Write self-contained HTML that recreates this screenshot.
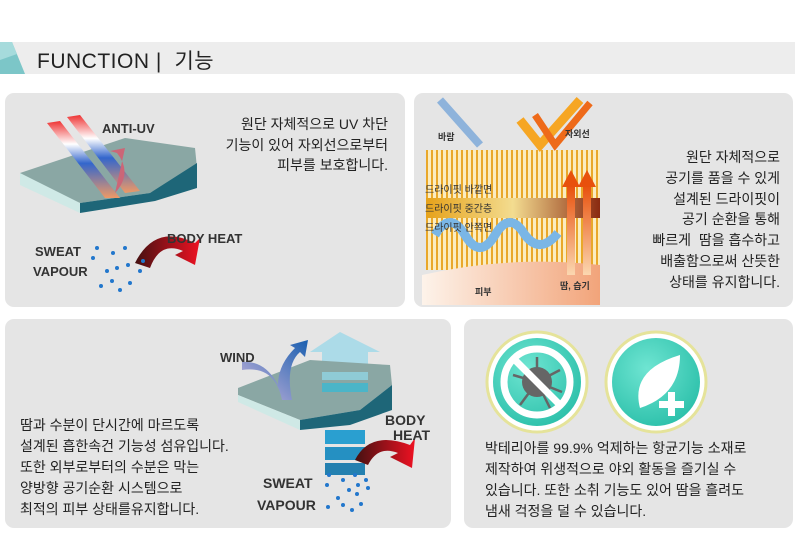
<!DOCTYPE html>
<html><head><meta charset="utf-8"><style>
*{margin:0;padding:0;box-sizing:border-box}
body{width:800px;height:550px;background:#fff;position:relative;overflow:hidden;font-family:"Liberation Sans","Noto Sans CJK KR",sans-serif;color:#222}
.hdr{position:absolute;left:0;top:42px;width:795px;height:32px;background:#ededed}
.hdr .t{position:absolute;left:37px;top:3px;font-size:21px;color:#222;letter-spacing:0.5px}
.p{position:absolute;background:#e5e5e5;border-radius:9px}
.tx{position:absolute;font-size:14px;line-height:20.5px;color:#222}
</style></head><body>
<div class="hdr">
<svg width="26" height="32" style="position:absolute;left:0;top:0"><polygon points="0,0 12,0 25,32 0,32" fill="#7cc6c8"/><polygon points="0,0 12,0 17,12 0,18" fill="#a6dbdc"/></svg>
<div class="t">FUNCTION |&nbsp; 기능</div>
</div>

<div class="p" style="left:5px;top:93px;width:400px;height:214px"></div>
<div class="p" style="left:414px;top:93px;width:379px;height:214px"></div>
<div class="p" style="left:5px;top:319px;width:446px;height:209px"></div>
<div class="p" style="left:464px;top:319px;width:329px;height:209px"></div>

<!-- P1 illustration -->
<svg width="400" height="214" style="position:absolute;left:5px;top:93px">
<defs>
<linearGradient id="uv" x1="0" y1="0" x2="0" y2="1"><stop offset="0" stop-color="#e33"/><stop offset=".3" stop-color="#fff"/><stop offset=".55" stop-color="#36c"/><stop offset="1" stop-color="#e96"/></linearGradient>
<linearGradient id="bh" x1="0" y1="0" x2="1" y2="0"><stop offset="0" stop-color="#411"/><stop offset="1" stop-color="#e12"/></linearGradient>
</defs>
<path d="M15,80 L120,45 L190,55 L192,75 L145,100 L75,110 L15,88Z" fill="#8aa7a4"/>
<path d="M15,80 L75,110 L75,120 L15,92Z" fill="#cfe9e6"/>
<path d="M75,110 L145,100 L192,70 L192,95 L150,108 L75,120Z" fill="#1e6678"/>
<path d="M42,30 L55,28 L115,105 L100,105Z" fill="url(#uv)"/>
<path d="M62,24 L75,22 L135,98 L120,100Z" fill="url(#uv)"/>
<path d="M110,100 Q128,80 112,60 L105,58 L120,55Z" fill="#c67"/>
<text x="97" y="40" font-size="13" font-weight="bold" fill="#333" font-family="Liberation Sans">ANTI-UV</text>
<path d="M130,170 Q150,130 190,150 L195,145 L190,172 L170,162 L178,158 Q155,148 145,175Z" fill="url(#bh)"/>
<text x="162" y="150" font-size="13" font-weight="bold" fill="#333" font-family="Liberation Sans">BODY HEAT</text>
<text x="30" y="163" font-size="13" font-weight="bold" fill="#333" font-family="Liberation Sans">SWEAT</text>
<text x="28" y="183" font-size="13" font-weight="bold" fill="#333" font-family="Liberation Sans">VAPOUR</text>
<g fill="#27c">
<circle cx="92" cy="155" r="2"/><circle cx="88" cy="165" r="2"/><circle cx="108" cy="160" r="2"/><circle cx="120" cy="155" r="2"/><circle cx="112" cy="175" r="2"/><circle cx="123" cy="172" r="2"/><circle cx="102" cy="178" r="2"/><circle cx="107" cy="188" r="2"/><circle cx="96" cy="193" r="2"/><circle cx="125" cy="190" r="2"/><circle cx="115" cy="197" r="2"/><circle cx="138" cy="168" r="2"/><circle cx="135" cy="178" r="2"/></g>
</svg>
<div class="tx" style="right:412px;top:114px;text-align:right">원단 자체적으로 UV 차단<br>기능이 있어 자외선으로부터<br>피부를 보호합니다.</div>

<!-- P2 illustration -->
<svg width="190" height="210" style="position:absolute;left:420px;top:95px">
<defs>
<linearGradient id="sk" x1="0" y1="0" x2="1" y2="0"><stop offset="0" stop-color="#fdf3ea"/><stop offset="1" stop-color="#f2a47a"/></linearGradient>
<linearGradient id="mid" x1="0" y1="0" x2="1" y2="0"><stop offset="0" stop-color="#e6a21a"/><stop offset=".5" stop-color="#f3dc90"/><stop offset="1" stop-color="#8a2a10"/></linearGradient>
<pattern id="fib" width="5" height="10" patternUnits="userSpaceOnUse"><rect width="5" height="10" fill="#fbecc0"/><rect x="1" width="2" height="10" fill="#e9a82a"/></pattern>
<linearGradient id="or" x1="0" y1="1" x2="0" y2="0"><stop offset="0" stop-color="#fbd7b0"/><stop offset="1" stop-color="#e8500c"/></linearGradient>
</defs>
<rect x="6" y="55" width="174" height="120" fill="url(#fib)"/>
<rect x="6" y="103" width="174" height="20" fill="url(#mid)"/>
<path d="M2,180 Q90,160 180,170 L180,210 L2,210Z" fill="url(#sk)"/>
<path d="M15,140 Q30,115 45,140 Q60,165 75,140 Q90,115 105,140 Q120,160 138,138" stroke="#7ab6e6" stroke-width="9" fill="none"/>
<rect x="147" y="90" width="8" height="90" fill="url(#or)"/><polygon points="142,92 151,75 160,92" fill="#e8500c"/>
<rect x="163" y="90" width="8" height="90" fill="url(#or)"/><polygon points="158,92 167,75 176,92" fill="#e8500c"/>
<path d="M20,5 L60,50" stroke="#6a9fd8" stroke-width="8" opacity=".7"/>
<path d="M100,25 L120,50 L160,5" stroke="#f6a623" stroke-width="9" fill="none"/>
<path d="M115,20 L135,50 L170,8" stroke="#ee6a1a" stroke-width="7" fill="none"/>
<text x="18" y="45" font-size="9" font-weight="bold" fill="#333">바람</text>
<text x="145" y="42" font-size="9" font-weight="bold" fill="#333">자외선</text>
<text x="5" y="98" font-size="10" fill="#333">드라이핏 바깥면</text>
<text x="5" y="117" font-size="10" fill="#333">드라이핏 중간층</text>
<text x="5" y="136" font-size="10" fill="#333">드라이핏 안쪽면</text>
<text x="55" y="200" font-size="9" font-weight="bold" fill="#333">피부</text>
<text x="140" y="194" font-size="9" font-weight="bold" fill="#333">땀, 습기</text>
</svg>
<div class="tx" style="right:20px;top:147px;text-align:right;line-height:20.8px">원단 자체적으로<br>공기를 품을 수 있게<br>설계된 드라이핏이<br>공기 순환을 통해<br>빠르게&nbsp; 땀을 흡수하고<br>배출함으로써 산뜻한<br>상태를 유지합니다.</div>

<!-- P3 illustration -->
<svg width="230" height="205" style="position:absolute;left:215px;top:320px">
<defs><linearGradient id="wd" x1="0" y1="1" x2="1" y2="0"><stop offset="0" stop-color="#cbb6dc"/><stop offset="1" stop-color="#1a5fb0"/></linearGradient>
<linearGradient id="bh2" x1="0" y1="0" x2="1" y2="0"><stop offset="0" stop-color="#411"/><stop offset="1" stop-color="#e12"/></linearGradient></defs>
<g transform="translate(15,0)">
<polygon points="80,32 110,12 150,32" fill="#acdbe8"/>
<rect x="92" y="32" width="46" height="18" fill="#acdbe8"/>
<path d="M8,68 L80,40 L160,45 L162,65 L130,90 L70,100 L8,75Z" fill="#8aa7a4"/>
<rect x="92" y="52" width="46" height="8" fill="#8fcbd6"/><rect x="92" y="63" width="46" height="9" fill="#4bb5c8"/>
<path d="M8,75 L70,100 L70,110 L8,82Z" fill="#cfe9e6"/>
<path d="M70,100 L130,90 L162,65 L162,90 L120,105 L70,110Z" fill="#1e6678"/>
<rect x="95" y="110" width="40" height="14" fill="#2a9fd0"/><rect x="95" y="127" width="40" height="13" fill="#2590c2"/><rect x="95" y="143" width="40" height="12" fill="#2380b0"/>
<path d="M12,50 Q45,45 52,80 L62,80 Q55,45 70,32 L75,37 L78,20 L60,25 L65,28 Q48,45 48,65 Q35,40 12,42Z" fill="url(#wd)"/>
<path d="M125,140 Q140,110 180,125 L185,118 L182,148 L160,137 L168,133 Q148,125 138,145Z" fill="url(#bh2)"/>
<text x="155" y="105" font-size="14" font-weight="bold" fill="#333" font-family="Liberation Sans">BODY</text>
<text x="163" y="120" font-size="14" font-weight="bold" fill="#333" font-family="Liberation Sans">HEAT</text>
<text x="33" y="168" font-size="14" font-weight="bold" fill="#333" font-family="Liberation Sans">SWEAT</text>
<text x="27" y="190" font-size="14" font-weight="bold" fill="#333" font-family="Liberation Sans">VAPOUR</text>
<g fill="#27c"><circle cx="99" cy="155" r="2"/><circle cx="113" cy="160" r="2"/><circle cx="125" cy="155" r="2"/><circle cx="136" cy="160" r="2"/><circle cx="97" cy="165" r="2"/><circle cx="119" cy="170" r="2"/><circle cx="128" cy="165" r="2"/><circle cx="138" cy="168" r="2"/><circle cx="108" cy="178" r="2"/><circle cx="127" cy="174" r="2"/><circle cx="113" cy="185" r="2"/><circle cx="98" cy="187" r="2"/><circle cx="122" cy="190" r="2"/><circle cx="131" cy="184" r="2"/></g>
</g>
<text x="5" y="42" font-size="13" font-weight="bold" fill="#333" font-family="Liberation Sans">WIND</text>
</svg>
<div class="tx" style="left:20px;top:415px;line-height:21px">땀과 수분이 단시간에 마르도록<br>설계된 흡한속건 기능성 섬유입니다.<br>또한 외부로부터의 수분은 막는<br>양방향 공기순환 시스템으로<br>최적의 피부 상태를유지합니다.</div>

<!-- P4 icons -->
<svg width="260" height="110" style="position:absolute;left:480px;top:330px">
<defs><radialGradient id="tq" cx=".4" cy=".35" r=".7"><stop offset="0" stop-color="#6fe5d2"/><stop offset="1" stop-color="#2cc0aa"/></radialGradient></defs>
<circle cx="57" cy="52" r="50" fill="#fff" stroke="#e5e39a" stroke-width="3"/>
<circle cx="57" cy="52" r="44" fill="url(#tq)"/>
<circle cx="57" cy="52" r="33" fill="none" stroke="#fff" stroke-width="7"/>
<circle cx="57" cy="52" r="15" fill="#666"/>
<g stroke="#666" stroke-width="2.5"><line x1="57" y1="52" x2="57" y2="27"/><line x1="57" y1="52" x2="80" y2="40"/><line x1="57" y1="52" x2="33" y2="45"/><line x1="57" y1="52" x2="40" y2="75"/><line x1="57" y1="52" x2="70" y2="78"/><line x1="57" y1="52" x2="82" y2="62"/></g>
<line x1="34" y1="29" x2="80" y2="75" stroke="#fff" stroke-width="7"/>
<circle cx="176" cy="52" r="50" fill="#fff" stroke="#e5e39a" stroke-width="3"/>
<circle cx="176" cy="52" r="44" fill="url(#tq)"/>
<path d="M160,78 Q150,40 200,25 Q200,65 160,78Z" fill="#fff"/>
<rect x="188" y="62" width="7" height="24" fill="#fff"/><rect x="179" y="71" width="25" height="7" fill="#fff"/>
</svg>
<div class="tx" style="left:485px;top:438px;line-height:21px">박테리아를 99.9% 억제하는 항균기능 소재로<br>제작하여 위생적으로 야외 활동을 즐기실 수<br>있습니다. 또한 소취 기능도 있어 땀을 흘려도<br>냄새 걱정을 덜 수 있습니다.</div>
</body></html>
